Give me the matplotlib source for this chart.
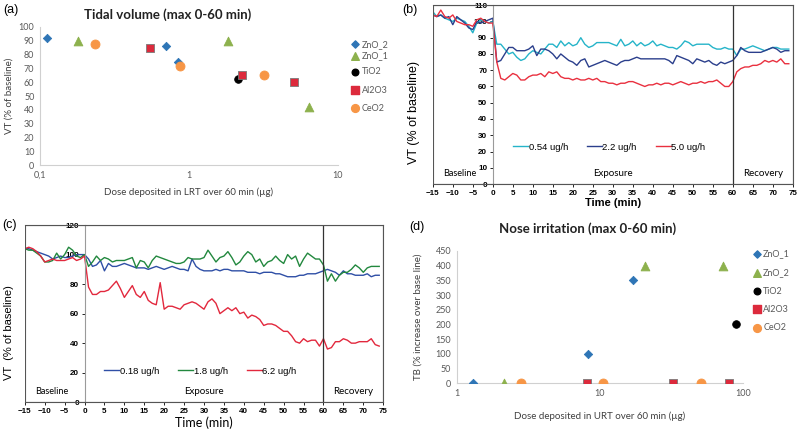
import numpy as np
import matplotlib.pyplot as plt
from matplotlib.patches import Rectangle

# ---------- panel (a): tidal volume vs LRT dose ----------
a_names = ['ZnO_2', 'ZnO_1', 'TiO2', 'Al2O3', 'CeO2']
a_dose = {
    'ZnO_2': [0.111, 0.70, 0.84],
    'ZnO_1': [0.18, 1.82, 6.4],
    'TiO2': [2.12],
    'Al2O3': [0.545, 2.28, 5.07],
    'CeO2': [0.233, 0.875, 3.2],
}
a_vt = {
    'ZnO_2': [92, 86, 75],
    'ZnO_1': [90, 90, 42],
    'TiO2': [62],
    'Al2O3': [85, 65, 60],
    'CeO2': [88, 72, 65],
}

# ---------- panel (d): nose irritation vs URT dose ----------
d_names = ['ZnO_1', 'ZnO_2', 'TiO2', 'Al2O3', 'CeO2']
d_dose = {
    'ZnO_1': [1.29, 8.3, 17.1],
    'ZnO_2': [2.13, 20.6, 72],
    'TiO2': [89],
    'Al2O3': [8.07, 32.6, 80],
    'CeO2': [2.8, 10.5, 51],
}
d_tb = {
    'ZnO_1': [0, 100, 350],
    'ZnO_2': [0, 400, 400],
    'TiO2': [200],
    'Al2O3': [0, 0, 0],
    'CeO2': [0, 0, 0],
}

# ---------- time courses, one value per minute -15 .. 74 ----------
time = list(range(-15, 75))

b_labels = ['0.54 ug/h', '2.2 ug/h', '5.0 ug/h']
b_low = [106, 103, 104, 102, 101, 100, 102, 101, 100, 97, 93, 99, 101, 100, 99, 100,
         86, 86, 83, 80, 81, 78, 76, 77, 80, 82, 81, 80, 83, 86, 86, 84, 88, 85, 87, 85,
         86, 90, 86, 84, 85, 87, 87, 87, 87, 86, 85, 89, 85, 86, 88, 85, 87, 85, 86, 88,
         85, 86, 85, 84, 84, 83, 85, 88, 87, 85, 86, 86, 86, 86, 84, 83, 83, 84, 83, 83,
         79, 83, 83, 84, 85, 84, 83, 82, 83, 84, 84, 83, 83, 83]
b_mid = [104, 103, 104, 102, 103, 98, 103, 101, 99, 96, 95, 100, 99, 100, 101, 102,
         75, 76, 80, 84, 84, 82, 82, 82, 83, 85, 79, 83, 83, 82, 80, 77, 80, 78, 76, 75,
         73, 76, 77, 72, 73, 74, 75, 76, 75, 74, 73, 75, 76, 76, 77, 78, 77, 77, 77, 77,
         77, 77, 77, 76, 74, 79, 78, 77, 76, 74, 77, 76, 75, 76, 74, 73, 75, 74, 75, 76,
         79, 84, 82, 81, 81, 81, 81, 82, 83, 84, 83, 81, 82, 82]
b_high = [104, 103, 107, 103, 102, 104, 100, 99, 98, 98, 97, 101, 102, 100, 99, 99,
          75, 65, 64, 66, 68, 67, 64, 64, 66, 67, 67, 68, 66, 69, 68, 69, 66, 65, 65, 64,
          65, 64, 64, 65, 64, 65, 63, 63, 62, 62, 61, 62, 62, 63, 63, 62, 61, 60, 61, 61,
          62, 61, 62, 62, 61, 62, 63, 62, 61, 62, 62, 63, 62, 63, 63, 64, 62, 60, 60, 63,
          69, 71, 72, 72, 73, 73, 74, 76, 75, 76, 75, 77, 74, 74]

c_labels = ['0.18 ug/h', '1.8 ug/h', '6.2 ug/h']
c_low = [104, 104, 103, 102, 101, 100, 99, 97, 98, 99, 98, 98, 99, 100, 100, 100,
         97, 92, 93, 96, 89, 94, 92, 92, 93, 94, 93, 92, 91, 91, 91, 90, 91, 92, 91, 90,
         91, 92, 91, 90, 90, 89, 97, 92, 90, 89, 89, 89, 90, 89, 90, 90, 89, 89, 89, 89,
         88, 88, 88, 87, 88, 88, 88, 87, 87, 86, 85, 85, 85, 86, 86, 87, 87, 87, 88, 89,
         90, 89, 88, 86, 89, 87, 87, 86, 86, 86, 87, 85, 86, 86]
c_mid = [104, 103, 103, 101, 99, 95, 95, 96, 101, 97, 100, 105, 103, 99, 98, 100,
         92, 95, 99, 96, 98, 97, 95, 96, 96, 96, 97, 98, 91, 96, 95, 91, 96, 99, 98, 97,
         96, 95, 94, 94, 95, 98, 97, 97, 97, 98, 103, 99, 95, 98, 99, 102, 98, 93, 95, 99,
         102, 100, 95, 97, 92, 95, 96, 99, 96, 94, 100, 97, 99, 92, 97, 101, 99, 97, 97, 93,
         82, 87, 82, 86, 88, 88, 90, 93, 91, 88, 91, 92, 92, 92]
c_high = [104, 105, 104, 102, 99, 95, 96, 97, 96, 96, 96, 97, 98, 96, 97, 99,
          78, 73, 73, 75, 75, 76, 79, 82, 77, 71, 75, 79, 73, 71, 75, 69, 67, 66, 81, 63,
          65, 65, 64, 63, 66, 67, 68, 67, 65, 63, 68, 70, 67, 60, 62, 64, 62, 64, 60, 61,
          57, 59, 58, 56, 52, 53, 53, 52, 50, 48, 48, 45, 41, 40, 43, 41, 42, 42, 38, 43,
          36, 37, 41, 41, 43, 42, 40, 40, 41, 41, 41, 43, 39, 38]

# ---------- styles ----------
mk = {
    'ZnO': dict(marker='D', color='#2e75b6', s=18),
    'green': dict(marker='^', color='#8db14d', s=40),
    'TiO2': dict(marker='o', color='black', s=30),
    'Al2O3': dict(marker='s', color='#dc2a3c', s=36),
    'CeO2': dict(marker='o', color='#f79646', s=42),
}

sc_font = 'Lato'
ln_font = 'Liberation Sans'
grey = '#595959'

fig = plt.figure(figsize=(8, 4.32), dpi=100)


def style_of(nm, green_name):
    if nm == green_name:
        return mk['green']
    if nm.startswith('ZnO'):
        return mk['ZnO']
    return mk[nm]


def scatter_panel(ax, names, xs, ys, green_name, leg_y, leg_x):
    for nm, ly in zip(names, leg_y):
        st = style_of(nm, green_name)
        ec = '#7a7a7a' if nm == 'Al2O3' else st['color']
        ax.scatter(xs[nm], ys[nm], marker=st['marker'], s=st['s'], c=st['color'],
                   edgecolors=ec, linewidths=0.6, zorder=3)
        # legend entry
        ax.scatter([leg_x], [ly], marker=st['marker'], s=st['s'] * 0.75, c=st['color'],
                   edgecolors=st['color'], transform=ax.transAxes, clip_on=False)
        ax.text(leg_x + 0.022, ly, nm, transform=ax.transAxes, va='center', ha='left',
                fontsize=6.5, color=grey, family=sc_font)
    for sp in ['top', 'right']:
        ax.spines[sp].set_visible(False)
    for sp in ['left', 'bottom']:
        ax.spines[sp].set_color('#d0d0d0')
    ax.tick_params(length=0, labelsize=6.5, colors=grey, pad=4)


# (a)
ax_a = fig.add_axes([0.05, 0.618, 0.3725, 0.3195])
scatter_panel(ax_a, a_names, a_dose, a_vt, 'ZnO_1',
              [0.875, 0.79, 0.674, 0.543, 0.413], 1.057)
ax_a.set_xscale('log')
ax_a.set_xlim(0.1, 10)
ax_a.set_ylim(0, 100)
ax_a.set_yticks(range(0, 101, 10))
ax_a.set_xticks([0.1, 1, 10])
ax_a.set_xticklabels(['0,1', '1', '10'])
ax_a.minorticks_off()
for t in ax_a.get_xticklabels() + ax_a.get_yticklabels():
    t.set_fontfamily(sc_font)
ax_a.set_xlabel('Dose deposited in LRT over 60 min (µg)', fontsize=7, color='#404040',
                family=sc_font, labelpad=6)
ax_a.set_ylabel('VT (% of baseline)', fontsize=7, color='#404040', family=sc_font)
fig.text(0.21, 0.965, 'Tidal volume (max 0-60 min)', ha='center', va='center',
         fontsize=9.5, fontweight='bold', family=sc_font, color='#222222')

# (d)
ax_d = fig.add_axes([0.571, 0.113, 0.358, 0.306])
scatter_panel(ax_d, d_names, d_dose, d_tb, 'ZnO_2',
              [0.977, 0.833, 0.697, 0.558, 0.419], 1.048)
ax_d.set_xscale('log')
ax_d.set_xlim(1, 100)
ax_d.set_ylim(0, 450)
ax_d.set_yticks(range(0, 451, 50))
ax_d.set_xticks([1, 10, 100])
ax_d.set_xticklabels(['1', '10', '100'])
ax_d.minorticks_off()
for t in ax_d.get_xticklabels() + ax_d.get_yticklabels():
    t.set_fontfamily(sc_font)
ax_d.set_xlabel('Dose deposited in URT over 60 min (µg)', fontsize=7, color='#404040',
                family=sc_font, labelpad=10)
ax_d.set_ylabel('TB (% increase over base line)', fontsize=7, color='#404040',
                family=sc_font, labelpad=9)
fig.text(0.735, 0.47, 'Nose irritation (max 0-60 min)', ha='center', va='center',
         fontsize=9.5, fontweight='bold', family=sc_font, color='#222222')


def time_panel(ax, ys, labels, colors, ymax, ystep, leg_y):
    for y, lab, col in zip(ys, labels, colors):
        ax.plot(time, y, color=col, lw=1.0, label=lab)
    ax.set_xlim(-15, 75)
    ax.set_ylim(0, ymax)
    ax.set_xticks(range(-15, 76, 5))
    ax.set_yticks(range(0, ymax + 1, ystep))
    ax.spines['left'].set_position(('data', 0))
    ax.spines['left'].set_color('#9a9a9a')
    for sp in ['top', 'right', 'bottom']:
        ax.spines[sp].set_color('#555555')
    ax.add_patch(Rectangle((0, 0), 1, 1, transform=ax.transAxes, fill=False,
                           ec='#555555', lw=0.8, zorder=5))
    ax.axvline(60, color='#333333', lw=0.9)
    ax.tick_params(labelsize=5.8, length=2.5, width=0.6, pad=1.5)
    for t in ax.get_xticklabels() + ax.get_yticklabels():
        t.set_fontfamily(ln_font)
        t.set_fontweight('bold')
    yt = ymax * 0.035
    ax.text(-8.2, yt, 'Baseline', ha='center', va='bottom', fontsize=6.6, family=sc_font)
    ax.text(30, yt, 'Exposure', ha='center', va='bottom', fontsize=7, family=sc_font)
    ax.text(67.5, yt, 'Recovery', ha='center', va='bottom', fontsize=7, family=sc_font)
    ax.legend(loc='center', bbox_to_anchor=(0.49, leg_y), ncol=3, frameon=False,
              prop={'family': ln_font, 'size': 6.8}, handlelength=1.6, handletextpad=0.05,
              columnspacing=2.0)


# (b)
ax_b = fig.add_axes([0.541, 0.574, 0.45, 0.414])
time_panel(ax_b, [b_low, b_mid, b_high], b_labels, ['#25b4c9', '#2b3f8c', '#e9303f'],
           110, 10, 0.207)
ax_b.set_xlabel('Time (min)', fontsize=8, fontweight='bold', family=ln_font, labelpad=1)
fig.text(0.517, 0.74, 'VT (% of baseline)', rotation=90, ha='center', va='center',
         fontsize=9, family=ln_font)

# (c)
ax_c = fig.add_axes([0.031, 0.069, 0.448, 0.41])
time_panel(ax_c, [c_low, c_mid, c_high], c_labels, ['#2f4fa6', '#22883e', '#e2283d'],
           120, 20, 0.175)
ax_c.set_xlabel('Time (min)', fontsize=9, family=sc_font, labelpad=1)
fig.text(0.011, 0.23, 'VT  (% of baseline)', rotation=90, ha='center', va='center',
         fontsize=8, family=ln_font)

# panel letters
fig.text(0.004, 0.978, '(a)', fontsize=9, va='center', family=ln_font)
fig.text(0.503, 0.978, '(b)', fontsize=9, va='center', family=ln_font)
fig.text(0.003, 0.48, '(c)', fontsize=9, va='center', family=ln_font)
fig.text(0.512, 0.475, '(d)', fontsize=9, va='center', family=ln_font)

fig.savefig('out.png', dpi=100)
